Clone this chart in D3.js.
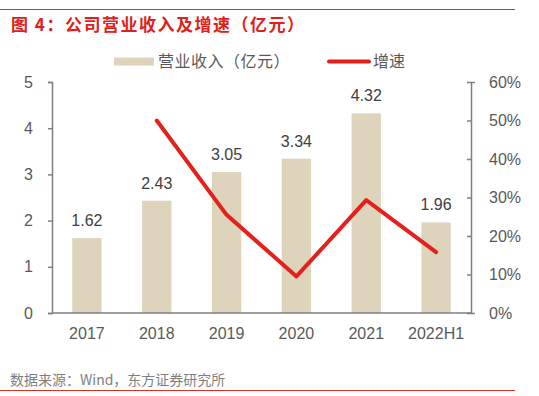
<!DOCTYPE html>
<html>
<head>
<meta charset="utf-8">
<script src="https://cdn.jsdelivr.net/npm/d3@7"></script>
<style>
  body { margin: 0; background: #fff; }
  svg text { font-family: "Liberation Sans", Arial, "Noto Sans CJK SC", sans-serif; }
</style>
</head>
<body>
<div class="container"></div>
<script>
var categories = ["2017", "2018", "2019", "2020", "2021", "2022H1"];
var revenue = [1.62, 2.43, 3.05, 3.34, 4.32, 1.96];
var growth = [null, 0.50, 0.255, 0.095, 0.293, 0.158];
var leftTicks = [0, 1, 2, 3, 4, 5];
var rightTicks = [0, 0.1, 0.2, 0.3, 0.4, 0.5, 0.6];

const WIDTH = 539;
const HEIGHT = 396;
const LEFT = 52, RIGHT = 471, TOP = 82, BOTTOM = 313;

const BAR_COLOR = "#DED4BC";
const LINE_COLOR = "#E3211C";
const TEXT_COLOR = "#595959";
const AXIS_COLOR = "#7F7F7F";
const CJK = '"Noto Sans CJK SC", sans-serif';

var svg = d3.select('.container').append('svg')
  .attr('width', WIDTH)
  .attr('height', HEIGHT);

// frame lines
svg.append('line').attr('x1', 0).attr('x2', 515).attr('y1', 9.5).attr('y2', 9.5)
  .attr('stroke', '#D9302A').attr('stroke-width', 1);
svg.append('line').attr('x1', 0).attr('x2', 515).attr('y1', 390.5).attr('y2', 390.5)
  .attr('stroke', '#D9302A').attr('stroke-width', 1);

svg.append('text')
  .attr('x', 11).attr('y', 31)
  .attr('fill', '#E0201A')
  .attr('font-size', 17).attr('font-weight', 'bold')
  .attr('letter-spacing', 1.5)
  .style('font-family', CJK)
  .text('图 4：公司营业收入及增速（亿元）');

svg.append('text')
  .attr('x', 10).attr('y', 385)
  .attr('fill', '#7F7F7F')
  .attr('font-size', 14)
  .style('font-family', CJK)
  .text('数据来源：Wind，东方证券研究所');

var xScale = d3.scaleBand().domain(categories).range([LEFT, RIGHT]).paddingInner(0.58).paddingOuter(0.29);
var yLeft = d3.scaleLinear().domain([0, 5]).range([BOTTOM, TOP]);
var yRight = d3.scaleLinear().domain([0, 0.6]).range([BOTTOM, TOP]);

// bars
svg.append('g').selectAll('rect').data(revenue).enter().append('rect')
  .attr('x', function(d, i) { return xScale(categories[i]); })
  .attr('y', function(d) { return yLeft(d); })
  .attr('width', xScale.bandwidth())
  .attr('height', function(d) { return BOTTOM - yLeft(d); })
  .attr('fill', BAR_COLOR);

svg.append('g').selectAll('text').data(revenue).enter().append('text')
  .attr('x', function(d, i) { return xScale(categories[i]) + xScale.bandwidth() / 2; })
  .attr('y', function(d) { return yLeft(d) - 12; })
  .attr('text-anchor', 'middle')
  .attr('font-size', 16)
  .attr('fill', '#404040')
  .text(function(d) { return d.toFixed(2); });

// axes
var leftAxis = d3.axisLeft(yLeft).tickValues(leftTicks).tickSize(4).tickPadding(15)
  .tickFormat(d3.format('d'));
var gl = svg.append('g').attr('transform', 'translate(' + LEFT + ',0)').call(leftAxis);

var rightAxis = d3.axisRight(yRight).tickValues(rightTicks).tickSize(4).tickPadding(14)
  .tickFormat(d3.format('.0%'));
var gr = svg.append('g').attr('transform', 'translate(' + RIGHT + ',0)').call(rightAxis);
gr.selectAll('.tick line').attr('x2', -4);

var xAxis = d3.axisBottom(xScale).tickSize(0).tickPadding(15);
var gx = svg.append('g').attr('transform', 'translate(0,' + BOTTOM + ')').call(xAxis);
gx.select('.domain').attr('d', 'M' + LEFT + ',0H' + RIGHT);

[gl, gr, gx].forEach(function(g) {
  g.select('.domain').attr('stroke', AXIS_COLOR).attr('stroke-width', 1.5);
  g.selectAll('.tick line').attr('stroke', AXIS_COLOR).attr('stroke-width', 1.5);
  g.selectAll('.tick text').attr('fill', TEXT_COLOR).attr('font-size', 16)
    .style('font-family', '"Liberation Sans", Arial, sans-serif');
});

// growth line
var line = d3.line()
  .defined(function(d) { return d != null; })
  .x(function(d, i) { return xScale(categories[i]) + xScale.bandwidth() / 2; })
  .y(function(d) { return yRight(d); });

svg.append('path').datum(growth)
  .attr('d', line)
  .attr('fill', 'none')
  .attr('stroke', LINE_COLOR)
  .attr('stroke-width', 4)
  .attr('stroke-linejoin', 'round')
  .attr('stroke-linecap', 'round');

// legend
var legend = svg.append('g');
legend.append('rect').attr('x', 114).attr('y', 57.5).attr('width', 40).attr('height', 8).attr('fill', BAR_COLOR);
legend.append('text').attr('x', 158).attr('y', 67).attr('font-size', 16).attr('fill', TEXT_COLOR)
  .attr('letter-spacing', 0.5)
  .style('font-family', CJK)
  .text('营业收入（亿元）');
legend.append('line').attr('x1', 329).attr('x2', 369).attr('y1', 61.5).attr('y2', 61.5)
  .attr('stroke', LINE_COLOR).attr('stroke-width', 4).attr('stroke-linecap', 'round');
legend.append('text').attr('x', 373).attr('y', 67).attr('font-size', 16).attr('fill', TEXT_COLOR)
  .style('font-family', CJK)
  .text('增速');
</script>
</body>
</html>
